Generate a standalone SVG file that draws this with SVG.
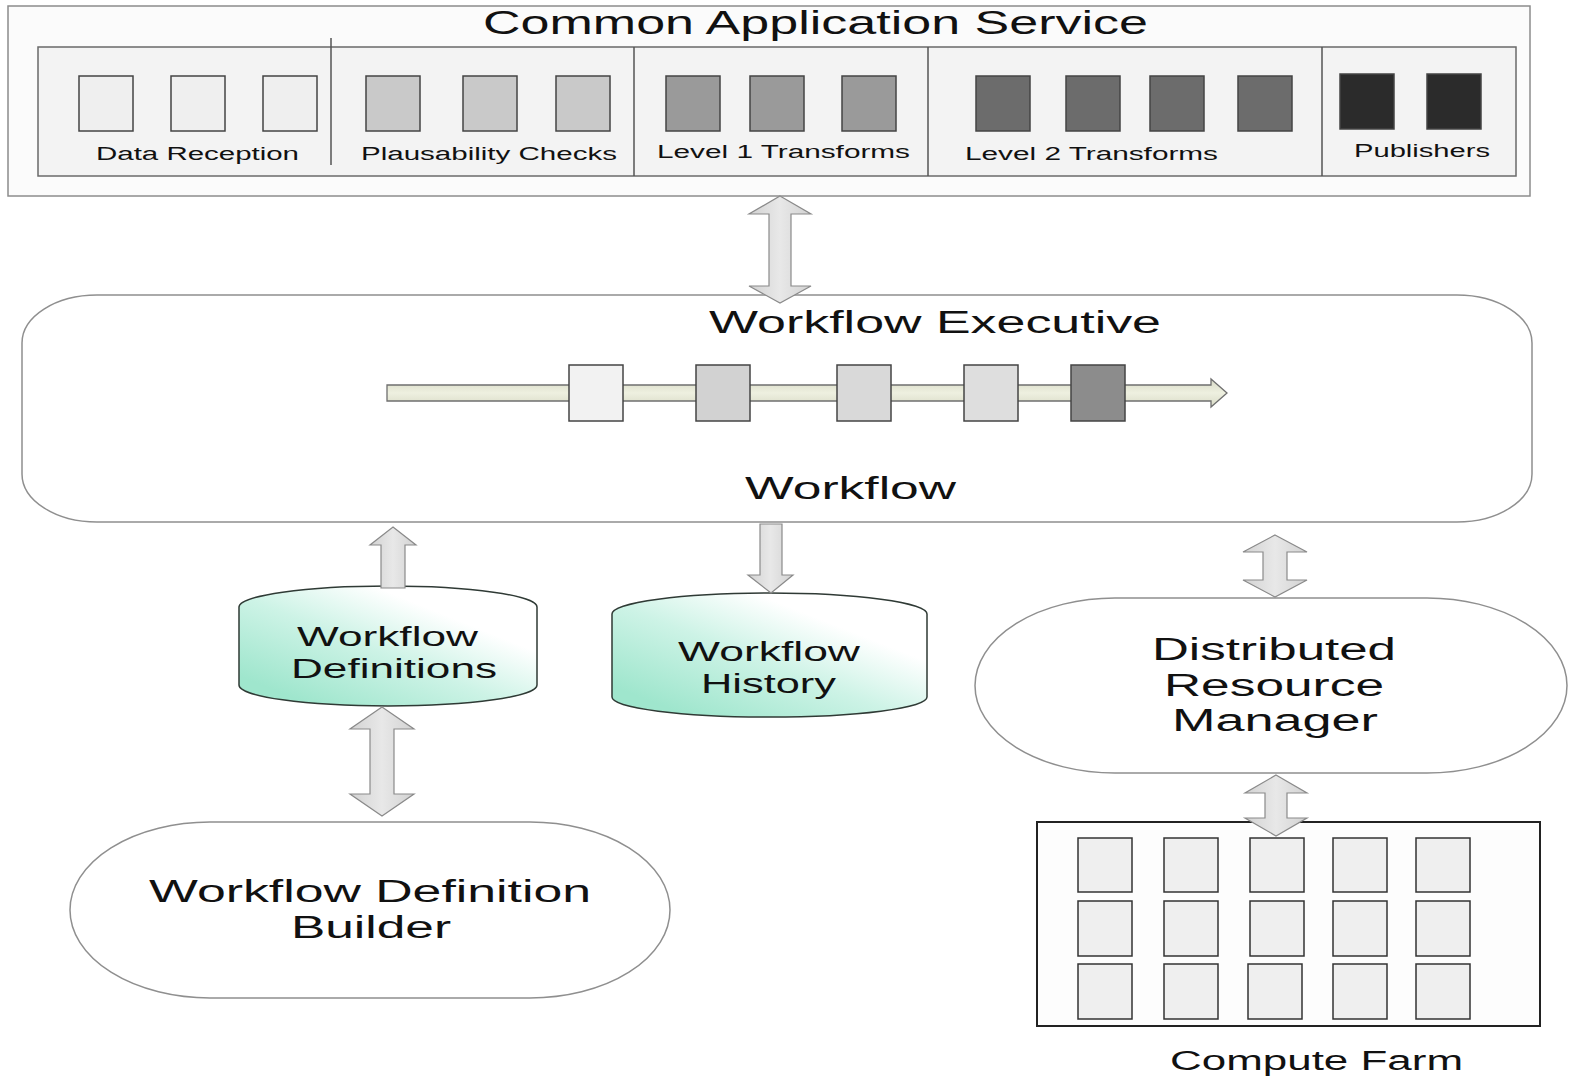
<svg xmlns="http://www.w3.org/2000/svg" width="1571" height="1078" viewBox="0 0 1571 1078">
  <style>
    text { font-family: "Liberation Sans", Arial, sans-serif; fill: #111; }
    .title { font-size: 33px; }
    .lbl { font-size: 18px; }
    .big { font-size: 31px; }
    .mid { font-size: 27px; }
    .frame { fill: #fbfbfb; stroke: #8c8c8c; stroke-width: 1.5; }
    .inner { fill: #f3f3f3; stroke: #6a6a6a; stroke-width: 1.5; }
    .sep { stroke: #555; stroke-width: 1.5; }
    .cell { stroke: #444; stroke-width: 1.5; }
    .c0 { fill: #efefef; }
    .c1 { fill: #c9c9c9; }
    .c2 { fill: #9a9a9a; }
    .c3 { fill: #6c6c6c; }
    .c4 { fill: #2b2b2b; }
    .soft { fill: #ffffff; stroke: #8f8f8f; stroke-width: 1.5; }
    .arrow { fill: url(#arrowFill); stroke: #8a8a8a; stroke-width: 1.2; }
    .db { fill: url(#dbFill); stroke: #2f3a35; stroke-width: 1.5; }
    .farm { fill: #fdfdfd; stroke: #222; stroke-width: 2; }
    .node { fill: #efefef; stroke: #333; stroke-width: 1.5; }
  </style>
  <defs>
    <linearGradient id="arrowFill" x1="0" y1="0" x2="1" y2="0">
      <stop offset="0" stop-color="#d2d2d2"/>
      <stop offset="0.5" stop-color="#e8e8e8"/>
      <stop offset="1" stop-color="#d2d2d2"/>
    </linearGradient>
    <!-- store body: teal at the lower left, fading to white toward the top -->
    <linearGradient id="dbFill" x1="0" y1="0.75" x2="0.75" y2="0">
      <stop offset="0" stop-color="#9fe6cd"/>
      <stop offset="0.45" stop-color="#cdf3e6"/>
      <stop offset="0.8" stop-color="#ffffff"/>
      <stop offset="1" stop-color="#ffffff"/>
    </linearGradient>
    <linearGradient id="flowFill" x1="0" y1="0" x2="0" y2="1">
      <stop offset="0" stop-color="#d8dac6"/>
      <stop offset="0.5" stop-color="#eef0e0"/>
      <stop offset="1" stop-color="#d8dac6"/>
    </linearGradient>
  </defs>

  <rect width="1571" height="1078" fill="#ffffff"/>

  <!-- Common Application Service -->
  <g id="common-application-service">
    <rect class="frame" x="8" y="6" width="1522" height="190"/>
    <text class="title" x="483" y="34" textLength="665" lengthAdjust="spacingAndGlyphs">Common Application Service</text>
    <rect class="inner" x="38" y="47" width="1478" height="129"/>
    <line class="sep" x1="331" y1="38" x2="331" y2="165"/>
    <line class="sep" x1="634" y1="47" x2="634" y2="176"/>
    <line class="sep" x1="928" y1="47" x2="928" y2="176"/>
    <line class="sep" x1="1322" y1="47" x2="1322" y2="176"/>

    <g id="data-reception">
      <rect class="cell c0" x="79" y="76" width="54" height="55"/>
      <rect class="cell c0" x="171" y="76" width="54" height="55"/>
      <rect class="cell c0" x="263" y="76" width="54" height="55"/>
      <text class="lbl" x="96" y="160" textLength="203" lengthAdjust="spacingAndGlyphs">Data Reception</text>
    </g>
    <g id="plausability-checks">
      <rect class="cell c1" x="366" y="76" width="54" height="55"/>
      <rect class="cell c1" x="463" y="76" width="54" height="55"/>
      <rect class="cell c1" x="556" y="76" width="54" height="55"/>
      <text class="lbl" x="361" y="160" textLength="256" lengthAdjust="spacingAndGlyphs">Plausability Checks</text>
    </g>
    <g id="level-1-transforms">
      <rect class="cell c2" x="666" y="76" width="54" height="55"/>
      <rect class="cell c2" x="750" y="76" width="54" height="55"/>
      <rect class="cell c2" x="842" y="76" width="54" height="55"/>
      <text class="lbl" x="657" y="158" textLength="253" lengthAdjust="spacingAndGlyphs">Level 1 Transforms</text>
    </g>
    <g id="level-2-transforms">
      <rect class="cell c3" x="976" y="76" width="54" height="55"/>
      <rect class="cell c3" x="1066" y="76" width="54" height="55"/>
      <rect class="cell c3" x="1150" y="76" width="54" height="55"/>
      <rect class="cell c3" x="1238" y="76" width="54" height="55"/>
      <text class="lbl" x="965" y="160" textLength="253" lengthAdjust="spacingAndGlyphs">Level 2 Transforms</text>
    </g>
    <g id="publishers">
      <rect class="cell c4" x="1340" y="74" width="54" height="55"/>
      <rect class="cell c4" x="1427" y="74" width="54" height="55"/>
      <text class="lbl" x="1354" y="157" textLength="136" lengthAdjust="spacingAndGlyphs">Publishers</text>
    </g>
  </g>

  <!-- Workflow Executive -->
  <g id="workflow-executive">
    <rect class="soft" x="22" y="295" width="1510" height="227" rx="75" ry="48"/>
    <text class="big" x="709" y="333" textLength="452" lengthAdjust="spacingAndGlyphs">Workflow Executive</text>
    <path d="M387,385 H1211 V379 L1227,393 L1211,407 V401 H387 Z" fill="url(#flowFill)" stroke="#6f6f6f" stroke-width="1.3"/>
    <rect class="cell" x="569" y="365" width="54" height="56" fill="#f2f2f2"/>
    <rect class="cell" x="696" y="365" width="54" height="56" fill="#d2d2d2"/>
    <rect class="cell" x="837" y="365" width="54" height="56" fill="#d9d9d9"/>
    <rect class="cell" x="964" y="365" width="54" height="56" fill="#dedede"/>
    <rect class="cell" x="1071" y="365" width="54" height="56" fill="#8c8c8c"/>
    <text class="big" x="745" y="499" textLength="211" lengthAdjust="spacingAndGlyphs">Workflow</text>
  </g>

  <!-- Workflow Definitions store -->
  <g id="workflow-definitions">
    <path class="db" d="M239,607 A149,21 0 0 1 537,607 V685 A149,21 0 0 1 239,685 Z"/>
    <text class="mid" x="297" y="646" textLength="181" lengthAdjust="spacingAndGlyphs">Workflow</text>
    <text class="mid" x="291" y="678" textLength="206" lengthAdjust="spacingAndGlyphs">Definitions</text>
  </g>

  <!-- Workflow History store -->
  <g id="workflow-history">
    <path class="db" d="M612,614 A157.5,21 0 0 1 927,614 V697 A157.5,20 0 0 1 612,697 Z"/>
    <text class="mid" x="678" y="661" textLength="182" lengthAdjust="spacingAndGlyphs">Workflow</text>
    <text class="mid" x="701" y="693" textLength="135" lengthAdjust="spacingAndGlyphs">History</text>
  </g>

  <!-- Distributed Resource Manager -->
  <g id="distributed-resource-manager">
    <rect class="soft" x="975" y="598" width="592" height="175" rx="140" ry="87.5"/>
    <text class="big" x="1152" y="660" textLength="244" lengthAdjust="spacingAndGlyphs">Distributed</text>
    <text class="big" x="1164" y="696" textLength="220" lengthAdjust="spacingAndGlyphs">Resource</text>
    <text class="big" x="1172" y="731" textLength="206" lengthAdjust="spacingAndGlyphs">Manager</text>
  </g>

  <!-- Workflow Definition Builder -->
  <g id="workflow-definition-builder">
    <rect class="soft" x="70" y="822" width="600" height="176" rx="140" ry="88"/>
    <text class="big" x="149" y="902" textLength="442" lengthAdjust="spacingAndGlyphs">Workflow Definition</text>
    <text class="big" x="291" y="938" textLength="160" lengthAdjust="spacingAndGlyphs">Builder</text>
  </g>

  <!-- Compute Farm -->
  <g id="compute-farm">
    <rect class="farm" x="1037" y="822" width="503" height="204"/>
    <g>
      <rect class="node" x="1078" y="838" width="54" height="54"/>
      <rect class="node" x="1164" y="838" width="54" height="54"/>
      <rect class="node" x="1250" y="838" width="54" height="54"/>
      <rect class="node" x="1333" y="838" width="54" height="54"/>
      <rect class="node" x="1416" y="838" width="54" height="54"/>
      <rect class="node" x="1078" y="901" width="54" height="55"/>
      <rect class="node" x="1164" y="901" width="54" height="55"/>
      <rect class="node" x="1250" y="901" width="54" height="55"/>
      <rect class="node" x="1333" y="901" width="54" height="55"/>
      <rect class="node" x="1416" y="901" width="54" height="55"/>
      <rect class="node" x="1078" y="964" width="54" height="55"/>
      <rect class="node" x="1164" y="964" width="54" height="55"/>
      <rect class="node" x="1248" y="964" width="54" height="55"/>
      <rect class="node" x="1333" y="964" width="54" height="55"/>
      <rect class="node" x="1416" y="964" width="54" height="55"/>
    </g>
    <text class="mid" x="1170" y="1070" textLength="293" lengthAdjust="spacingAndGlyphs">Compute Farm</text>
  </g>

  <!-- Connectors: block arrows between components -->
  <g id="connectors">
    <!-- service <-> executive -->
    <path class="arrow" d="M780,196 L811,214 L791,214 V286 L811,286 L780,303 L749,286 L769,286 V214 L749,214 Z"/>
    <!-- definitions -> executive -->
    <path class="arrow" d="M393,527 L416,545 L405,545 V588 L381,588 V545 L370,545 Z"/>
    <!-- executive -> history -->
    <path class="arrow" d="M760,524 H782 V575 L793,575 L771,593 L748,575 L760,575 Z"/>
    <!-- executive <-> resource manager -->
    <path class="arrow" d="M1275,535 L1307,552 L1287,552 V580 L1307,580 L1275,597 L1243,580 L1263,580 V552 L1243,552 Z"/>
    <!-- definitions <-> builder -->
    <path class="arrow" d="M382,707 L414,729 L394,729 V794 L414,794 L382,816 L350,794 L370,794 V729 L350,729 Z"/>
    <!-- resource manager <-> compute farm -->
    <path class="arrow" d="M1276,775 L1307,793 L1287,793 V818 L1307,818 L1276,836 L1245,818 L1265,818 V793 L1245,793 Z"/>
  </g>
</svg>
